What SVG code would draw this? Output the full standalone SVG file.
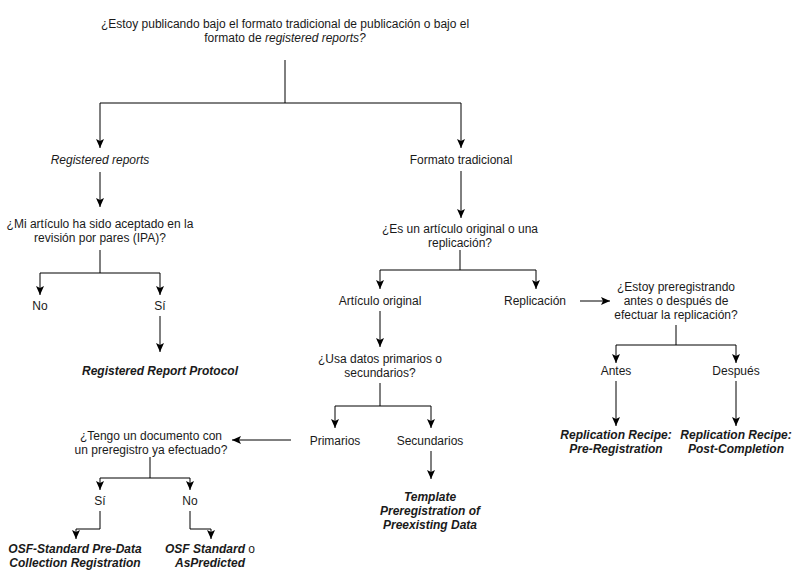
<svg xmlns="http://www.w3.org/2000/svg" width="801" height="571" viewBox="0 0 801 571">
<defs>
<style>
text{font-family:"Liberation Sans",Arial,Helvetica,sans-serif;font-size:12px;fill:#1a1a1a;text-anchor:middle}
.i{font-style:italic}
.bi{font-style:italic;font-weight:bold}
.e{fill:none;stroke:#000;stroke-width:1;marker-end:url(#arr)}
.l{fill:none;stroke:#000;stroke-width:1}
</style>
<marker id="arr" markerUnits="userSpaceOnUse" markerWidth="10" markerHeight="9" refX="9" refY="4" orient="auto">
<path d="M0,0 L9,4 L0,8 L2,4 Z" fill="#000"/>
</marker>
</defs>
<rect width="801" height="571" fill="#fff"/>
<g id="connectors">
<path class="e" d="M285,60 V103 H100 V148"/>
<path class="e" d="M285,103 H461 V148"/>
<path class="e" d="M100,172 V207"/>
<path class="e" d="M100,250 V273 H40 V295"/>
<path class="e" d="M100,273 H160 V295"/>
<path class="e" d="M160,316 V352"/>
<path class="e" d="M461,171 V218"/>
<path class="e" d="M460,250 V270 H380 V289"/>
<path class="e" d="M460,270 H536 V289"/>
<path class="e" d="M380,311 V347"/>
<path class="e" d="M580,301 H610"/>
<path class="e" d="M676,325 V345 H616 V363"/>
<path class="e" d="M676,345 H736 V363"/>
<path class="e" d="M616,381 V426"/>
<path class="e" d="M736,381 V426"/>
<path class="e" d="M380,383 V406 H335 V428"/>
<path class="e" d="M380,406 H431 V428"/>
<path class="e" d="M431,451 V479"/>
<path class="e" d="M291,440 H232"/>
<path class="e" d="M150,457 V478 H100 V490"/>
<path class="e" d="M150,478 H190 V490"/>
<path class="e" d="M100,511 V529 H76 V539"/>
<path class="e" d="M190,511 V529 H211 V539"/>
</g>
<g id="n-top"><text x="285" y="28">¿Estoy publicando bajo el formato tradicional de publicación o bajo el</text><text x="285" y="42">formato de <tspan class="i">registered reports?</tspan></text></g>
<g id="n-rr"><text class="i" x="100" y="164">Registered reports</text></g>
<g id="n-ft"><text x="461" y="164">Formato tradicional</text></g>
<g id="n-ipa"><text x="100" y="228">¿Mi artículo ha sido aceptado en la</text><text x="100" y="242">revisión por pares (IPA)?</text></g>
<g id="n-no1"><text x="40" y="310">No</text></g>
<g id="n-si1"><text x="160" y="310">Sí</text></g>
<g id="n-rrp"><text class="bi" x="160" y="375">Registered Report Protocol</text></g>
<g id="n-orig"><text x="460" y="233">¿Es un artículo original o una</text><text x="460" y="247">replicación?</text></g>
<g id="n-ao"><text x="380" y="305">Artículo original</text></g>
<g id="n-rep"><text x="535" y="305">Replicación</text></g>
<g id="n-prereg"><text x="676" y="291">¿Estoy preregistrando</text><text x="676" y="305">antes o después de</text><text x="676" y="319">efectuar la replicación?</text></g>
<g id="n-antes"><text x="616" y="375">Antes</text></g>
<g id="n-despues"><text x="736" y="375">Después</text></g>
<g id="n-rrpre"><text class="bi" x="616" y="439">Replication Recipe:</text><text class="bi" x="616" y="453">Pre-Registration</text></g>
<g id="n-rrpost"><text class="bi" x="736" y="439">Replication Recipe:</text><text class="bi" x="736" y="453">Post-Completion</text></g>
<g id="n-usa"><text x="380" y="363">¿Usa datos primarios o</text><text x="380" y="377">secundarios?</text></g>
<g id="n-prim"><text x="335" y="445">Primarios</text></g>
<g id="n-sec"><text x="430" y="445">Secundarios</text></g>
<g id="n-tpl"><text class="bi" x="430" y="501">Template</text><text class="bi" x="430" y="515">Preregistration of</text><text class="bi" x="430" y="529">Preexisting Data</text></g>
<g id="n-tengo"><text x="151" y="440">¿Tengo un documento con</text><text x="151" y="454">un preregistro ya efectuado?</text></g>
<g id="n-si2"><text x="100" y="505">Sí</text></g>
<g id="n-no2"><text x="190" y="505">No</text></g>
<g id="n-osf1"><text class="bi" x="75" y="553">OSF-Standard Pre-Data</text><text class="bi" x="75" y="567">Collection Registration</text></g>
<g id="n-osf2"><text x="210" y="553"><tspan class="bi">OSF Standard</tspan> o</text><text class="bi" x="210" y="567">AsPredicted</text></g>
</svg>
